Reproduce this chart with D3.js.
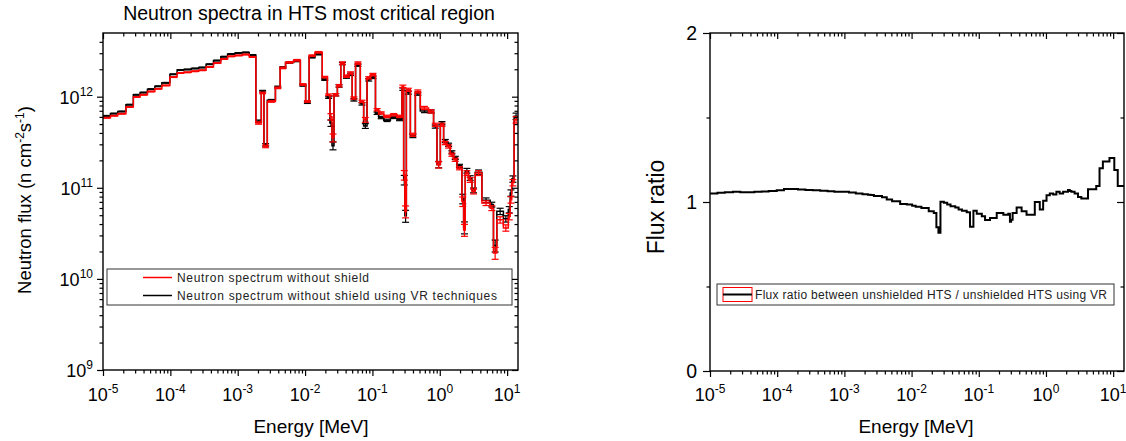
<!DOCTYPE html>
<html><head><meta charset="utf-8">
<script src="https://cdn.jsdelivr.net/npm/d3@7"></script>
<style>body{margin:0;background:#fff}svg{display:block;font-family:"Liberation Sans",Arial,Helvetica,sans-serif}</style>
</head><body><svg id="c" width="1126" height="441"></svg>
<script>
// ---------- data ----------
const energyEdges = [
 1.00e-5,1.29e-5,1.66e-5,2.19e-5,2.82e-5,3.55e-5,4.57e-5,5.89e-5,7.48e-5,9.84e-5,
 1.26e-4,1.58e-4,2.04e-4,2.63e-4,3.39e-4,4.37e-4,5.62e-4,7.08e-4,9.12e-4,1.17e-3,
 1.48e-3,1.86e-3,2.24e-3,2.45e-3,2.75e-3,3.63e-3,4.27e-3,5.13e-3,6.76e-3,8.51e-3,
 1.02e-2,1.15e-2,1.40e-2,1.80e-2,2.14e-2,2.34e-2,2.51e-2,2.69e-2,3.02e-2,3.39e-2,
 3.80e-2,4.47e-2,5.01e-2,5.62e-2,6.61e-2,7.41e-2,8.32e-2,9.33e-2,0.111,0.124,
 0.147,0.185,0.232,0.275,0.291,0.303,0.319,0.366,0.434,0.514,
 0.682,0.809,0.908,1.02,1.14,1.28,1.43,1.60,1.80,2.13,
 2.26,2.39,2.67,3.00,3.36,4.22,5.60,6.27,7.03,8.81,
 10.4,11.1,11.7,12.7,14.5];
const fluxUnshielded = [
 5.87e11,6.18e11,6.50e11,7.71e11,9.93e11,1.05e12,1.14e12,1.22e12,1.33e12,1.64e12,
 1.82e12,1.85e12,1.90e12,1.95e12,2.12e12,2.34e12,2.59e12,2.77e12,2.84e12,2.90e12,
 2.73e12,5.14e11,1.10e12,2.84e11,8.87e11,1.25e12,2.07e12,2.38e12,2.51e12,1.36e12,
 8.87e11,2.82e12,3.07e12,1.64e12,1.05e12,6.03e11,3.54e11,1.05e12,1.32e12,2.34e12,
 1.68e12,1.82e12,9.66e11,2.34e12,8.87e11,5.58e11,1.61e12,1.75e12,7.19e11,6.62e11,
 6.08e11,6.34e11,6.08e11,1.30e12,1.38e11,5.50e10,1.19e12,3.82e11,1.14e12,7.52e11,
 6.89e11,4.92e11,1.79e11,4.92e11,3.10e11,2.84e11,2.31e11,2.03e11,1.64e11,7.08e10,
 3.45e10,1.45e11,1.22e11,9.10e10,1.45e11,6.79e10,5.98e10,1.93e10,4.45e10,3.63e10,
 4.84e10,7.38e10,1.14e11,5.58e11];
const fluxVR = [
 6.16e11,6.52e11,6.88e11,8.18e11,1.05e12,1.11e12,1.21e12,1.30e12,1.42e12,1.76e12,
 1.96e12,1.99e12,2.04e12,2.09e12,2.27e12,2.49e12,2.75e12,2.94e12,3.01e12,3.06e12,
 2.87e12,5.38e11,1.15e12,2.96e11,9.14e11,1.28e12,2.09e12,2.37e12,2.47e12,1.33e12,
 8.60e11,2.71e12,2.93e12,1.54e12,9.77e11,5.13e11,2.90e11,1.05e12,1.31e12,2.31e12,
 1.64e12,1.76e12,9.23e11,2.22e12,8.34e11,4.77e11,1.53e12,1.63e12,6.58e11,5.91e11,
 5.50e11,5.93e11,5.62e11,1.21e12,1.22e11,4.92e10,1.11e12,3.70e11,1.08e12,6.96e11,
 6.89e11,4.70e11,1.80e11,5.12e11,3.26e11,2.97e11,2.45e11,2.13e11,1.74e11,7.58e10,
 3.67e10,1.54e11,1.28e11,9.37e10,1.48e11,7.30e10,6.55e10,2.32e10,5.52e10,4.57e10,
 5.76e10,8.78e10,1.25e11,6.11e11];
const relError = [
 0.01,0.01,0.01,0.01,0.01,0.01,0.01,0.01,0.01,0.01,0.01,0.01,0.01,0.01,0.01,0.01,0.01,0.01,0.01,0.01,0.01,
 0.03,0.02,0.03,0.02,0.02,0.02,0.02,0.02,0.02,0.02,0.02,0.02,0.02,0.02,
 0.08,0.10,
 0.03,0.03,0.03,0.03,0.03,0.03,0.03,0.03,0.06,0.03,0.03,0.03,0.03,0.03,0.03,0.03,0.03,
 0.12,0.15,
 0.04,0.04,0.04,0.04,0.04,0.04,0.08,0.04,0.04,0.04,0.04,0.04,0.04,
 0.12,0.15,
 0.06,0.06,0.06,0.06,0.06,0.06,
 0.15,
 0.08,0.08,0.08,0.08,0.08,0.08];
const fluxRatio = [
 1.050,1.055,1.058,1.061,1.058,1.058,1.060,1.062,1.065,1.070,
 1.077,1.077,1.074,1.071,1.069,1.066,1.063,1.061,1.060,1.056,
 1.051,1.046,1.043,1.041,1.035,1.028,1.015,1.005,0.988,0.985,
 0.978,0.972,0.965,0.945,0.935,0.850,0.818,1.002,0.995,0.985,
 0.975,0.968,0.955,0.948,0.940,0.854,0.948,0.930,0.915,0.893,
 0.905,0.935,0.925,0.930,0.883,0.895,0.935,0.968,0.945,0.925,
 1.000,0.955,1.008,1.040,1.050,1.045,1.061,1.050,1.060,1.071,
 1.065,1.060,1.051,1.030,1.020,1.075,1.095,1.200,1.240,1.260,
 1.190,1.190,1.095,1.095];
const xTickExponents = [-5,-4,-3,-2,-1,0,1];
const yTickExponents = [9,10,11,12];
const ratioTicks = [0,1,2];
const ratioMinorTicks = [0.5,1.5];
const legendLeft = ["Neutron spectrum without shield","Neutron spectrum without shield using VR techniques"];
const legendRight = "Flux ratio between unshielded HTS / unshielded HTS using VR";

// ---------- layout ----------
const svg = d3.select("#c");
const L = {x0:103,x1:518,y0:33,y1:370};
const R = {x0:710,x1:1124,y0:33,y1:371};
const xMax = energyEdges[energyEdges.length-1];
const xL = d3.scaleLog().domain([1e-5, xMax]).range([L.x0,L.x1]);
const yL = d3.scaleLog().domain([1e9, 5e12]).range([L.y1,L.y0]);
const xR = d3.scaleLog().domain([1e-5, xMax]).range([R.x0,R.x1]);
const yR = d3.scaleLinear().domain([0,2]).range([R.y1,R.y0]);

const majorsX = xTickExponents.map(e=>Math.pow(10,e));
const minorsX = [];
xTickExponents.forEach(e=>{for(let m=2;m<=9;m++){const v=m*Math.pow(10,e); if(v<xMax) minorsX.push(v);}});
const majorsY = yTickExponents.map(e=>Math.pow(10,e));
const minorsY = [];
yTickExponents.forEach(e=>{for(let m=2;m<=9;m++){const v=m*Math.pow(10,e); if(v<5e12*0.999) minorsY.push(v);}});

function drawAxis(gen, tr, vals, size){
  const g = svg.append("g").attr("transform",tr)
    .call(gen.tickValues(vals).tickSize(size).tickSizeOuter(0).tickFormat(()=>""));
  g.select(".domain").remove();
  g.selectAll(".tick text").remove();
  g.selectAll(".tick line").attr("stroke","#000").attr("stroke-width",1.2);
}

// clip paths
const defs = svg.append("defs");
defs.append("clipPath").attr("id","clipL").append("rect")
  .attr("x",L.x0).attr("y",L.y0).attr("width",L.x1-L.x0).attr("height",L.y1-L.y0);
defs.append("clipPath").attr("id","clipR").append("rect")
  .attr("x",R.x0).attr("y",R.y0).attr("width",R.x1-R.x0).attr("height",R.y1-R.y0);

function stepPoints(vals){ return energyEdges.map((e,i)=>[e, vals[Math.min(i, vals.length-1)]]); }

// ---------- left chart ----------
const lineL = d3.line().x(d=>xL(d[0])).y(d=>yL(d[1])).curve(d3.curveStepAfter);
const gL = svg.append("g").attr("clip-path","url(#clipL)");
function drawSeries(vals, color){
  gL.append("path").attr("d", lineL(stepPoints(vals))).attr("fill","none")
    .attr("stroke",color).attr("stroke-width",1.5);
  const eb = gL.append("g").attr("stroke",color).attr("stroke-width",1.2);
  vals.forEach((v,i)=>{
    const cx = xL(Math.sqrt(energyEdges[i]*energyEdges[i+1]));
    const lo = yL(v*(1-relError[i])), hi = yL(v*(1+relError[i]));
    eb.append("line").attr("x1",cx).attr("x2",cx).attr("y1",lo).attr("y2",hi);
    eb.append("line").attr("x1",cx-3.5).attr("x2",cx+3.5).attr("y1",lo).attr("y2",lo);
    eb.append("line").attr("x1",cx-3.5).attr("x2",cx+3.5).attr("y1",hi).attr("y2",hi);
  });
}
drawSeries(fluxVR, "#000");
drawSeries(fluxUnshielded, "#ff0000");

// legend left
const lg = svg.append("g");
lg.append("rect").attr("x",107).attr("y",269).attr("width",405).attr("height",36)
  .attr("fill","#fff").attr("stroke","#333").attr("stroke-width",1);
[["#ff0000",legendLeft[0],282,192],["#000",legendLeft[1],300,320]].forEach(([c,t,yb,w])=>{
  lg.append("line").attr("x1",143).attr("x2",172).attr("y1",yb-4.5).attr("y2",yb-4.5)
    .attr("stroke",c).attr("stroke-width",1.5);
  lg.append("text").attr("x",177).attr("y",yb).attr("font-size",12).attr("fill","#222")
    .attr("textLength",w).attr("lengthAdjust","spacing").text(t);
});

// frame + axes left
svg.append("rect").attr("x",L.x0).attr("y",L.y0).attr("width",L.x1-L.x0).attr("height",L.y1-L.y0)
  .attr("fill","none").attr("stroke","#000").attr("stroke-width",1.4);
drawAxis(d3.axisBottom(xL), `translate(0,${L.y1})`, majorsX, 6);
drawAxis(d3.axisBottom(xL), `translate(0,${L.y1})`, minorsX, 3.5);
drawAxis(d3.axisTop(xL), `translate(0,${L.y0})`, majorsX, -6);
drawAxis(d3.axisTop(xL), `translate(0,${L.y0})`, minorsX, -3.5);
drawAxis(d3.axisLeft(yL), `translate(${L.x0},0)`, majorsY, 6);
drawAxis(d3.axisLeft(yL), `translate(${L.x0},0)`, minorsY, 3.5);
drawAxis(d3.axisRight(yL), `translate(${L.x1},0)`, majorsY, -6);
drawAxis(d3.axisRight(yL), `translate(${L.x1},0)`, minorsY, -3.5);

function powLabel(x, y, exp, anchor){
  const t = svg.append("text").attr("x",x).attr("y",y).attr("font-size",18)
    .attr("text-anchor",anchor).attr("fill","#000");
  t.append("tspan").text("10");
  t.append("tspan").attr("dy",-8).attr("font-size",12).text(exp);
}
xTickExponents.forEach(e=>{
  powLabel(xL(Math.pow(10,e)), 401, String(e), "middle");
  powLabel(xR(Math.pow(10,e)), 401, String(e), "middle");
});
yTickExponents.forEach(e=> powLabel(93, yL(Math.pow(10,e))+7, String(e), "end"));

// titles left
svg.append("text").attr("x",309).attr("y",20).attr("text-anchor","middle")
  .attr("font-size",19.5).text("Neutron spectra in HTS most critical region");
svg.append("text").attr("x",311).attr("y",433).attr("text-anchor","middle")
  .attr("font-size",19).text("Energy [MeV]");
const yt = svg.append("text").attr("transform","translate(31,200) rotate(-90)")
  .attr("text-anchor","middle").attr("font-size",18.5);
yt.append("tspan").text("Neutron flux (n cm");
yt.append("tspan").attr("dy",-7).attr("font-size",12).text("-2");
yt.append("tspan").attr("dy",7).text("s");
yt.append("tspan").attr("dy",-7).attr("font-size",12).text("-1");
yt.append("tspan").attr("dy",7).text(")");

// ---------- right chart ----------
const lineR = d3.line().x(d=>xR(d[0])).y(d=>yR(d[1])).curve(d3.curveStepAfter);
svg.append("g").attr("clip-path","url(#clipR)").append("path")
  .attr("d", lineR(stepPoints(fluxRatio))).attr("fill","none")
  .attr("stroke","#000").attr("stroke-width",2);

const rg = svg.append("g");
rg.append("rect").attr("x",717).attr("y",284).attr("width",397).attr("height",21)
  .attr("fill","#fff").attr("stroke","#333").attr("stroke-width",1);
rg.append("rect").attr("x",723).attr("y",287.5).attr("width",29).attr("height",14)
  .attr("fill","#fff").attr("stroke","#ff0000").attr("stroke-width",1);
rg.append("line").attr("x1",723).attr("x2",752).attr("y1",294.5).attr("y2",294.5)
  .attr("stroke","#000").attr("stroke-width",2);
rg.append("text").attr("x",755).attr("y",299).attr("font-size",12).attr("fill","#222")
  .attr("textLength",352).attr("lengthAdjust","spacing").text(legendRight);

svg.append("rect").attr("x",R.x0).attr("y",R.y0).attr("width",R.x1-R.x0).attr("height",R.y1-R.y0)
  .attr("fill","none").attr("stroke","#000").attr("stroke-width",1.4);
drawAxis(d3.axisBottom(xR), `translate(0,${R.y1})`, majorsX, 6);
drawAxis(d3.axisBottom(xR), `translate(0,${R.y1})`, minorsX, 3.5);
drawAxis(d3.axisTop(xR), `translate(0,${R.y0})`, majorsX, -6);
drawAxis(d3.axisTop(xR), `translate(0,${R.y0})`, minorsX, -3.5);
drawAxis(d3.axisLeft(yR), `translate(${R.x0},0)`, ratioTicks, 7);
drawAxis(d3.axisLeft(yR), `translate(${R.x0},0)`, ratioMinorTicks, 3.5);
drawAxis(d3.axisRight(yR), `translate(${R.x1},0)`, ratioTicks, -7);
drawAxis(d3.axisRight(yR), `translate(${R.x1},0)`, ratioMinorTicks, -3.5);
ratioTicks.forEach(v=> svg.append("text").attr("x",697).attr("y",yR(v)+7)
  .attr("text-anchor","end").attr("font-size",19.5).text(String(v)));

svg.append("text").attr("x",916).attr("y",433).attr("text-anchor","middle")
  .attr("font-size",19).text("Energy [MeV]");
svg.append("text").attr("transform","translate(664,207) rotate(-90)")
  .attr("text-anchor","middle").attr("font-size",23).text("Flux ratio");
</script></body></html>
